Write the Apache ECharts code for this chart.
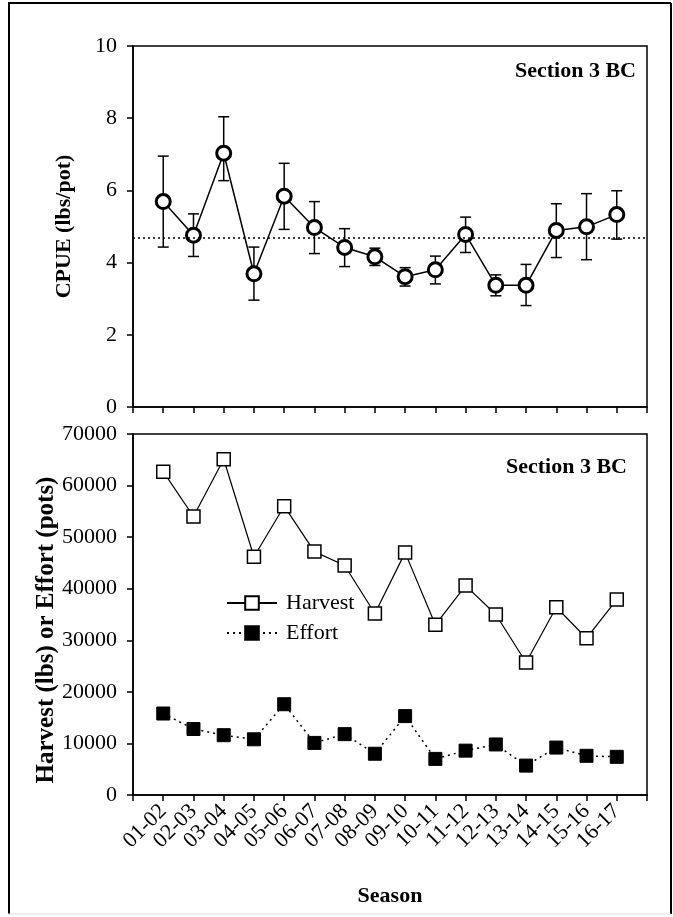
<!DOCTYPE html>
<html>
<head>
<meta charset="utf-8">
<script src="https://cdn.jsdelivr.net/npm/echarts@6/dist/echarts.min.js"></script>
<style>
  html, body { margin: 0; padding: 0; background: #fff; }
  #chart { width: 673px; height: 917px; }
</style>
</head>
<body>
<div id="chart"></div>
<script>
const seasons = ["01-02", "02-03", "03-04", "04-05", "05-06", "06-07", "07-08", "08-09",
  "09-10", "10-11", "11-12", "12-13", "13-14", "14-15", "15-16", "16-17"];
const cpue = [5.69, 4.76, 7.03, 3.69, 5.84, 4.97, 4.42, 4.16, 3.61, 3.80, 4.78, 3.37, 3.37, 4.89, 4.99, 5.33];
const cpueLow = [4.43, 4.17, 6.27, 2.96, 4.92, 4.25, 3.89, 3.92, 3.35, 3.41, 4.28, 3.08, 2.81, 4.14, 4.08, 4.65];
const cpueHigh = [6.95, 5.35, 8.04, 4.43, 6.75, 5.69, 4.94, 4.40, 3.86, 4.18, 5.26, 3.66, 3.95, 5.63, 5.91, 5.99];
const cpueMean = 4.68;
const harvest = [62700, 54000, 65100, 46200, 56000, 47200, 44500, 35200, 47000, 33000, 40600, 35000, 25700, 36400, 30400, 37900];
const effort = [15800, 12800, 11600, 10800, 17600, 10100, 11800, 8000, 15300, 7000, 8600, 9800, 5700, 9200, 7600, 7400];
const cpueTicks = { min: 0, max: 10, interval: 2 };
const countTicks = { min: 0, max: 70000, interval: 10000 };

const serif = '"Liberation Serif", "Times New Roman", serif';
const idx = (arr) => arr.map((v, i) => [i + 1, v]);

const chart = echarts.init(document.getElementById("chart"));

const xBase = {
  type: "value",
  min: 0,
  max: seasons.length + 1,
  interval: 1,
  splitLine: { show: false },
  axisLine: { lineStyle: { color: "#000", width: 1.5 } },
  axisTick: { inside: false, length: 6, lineStyle: { color: "#000", width: 1.5 } },
};
const yBase = {
  type: "value",
  splitLine: { show: false },
  axisLine: { show: true, lineStyle: { color: "#000", width: 1.5 } },
  axisTick: { show: true, inside: false, length: 6, lineStyle: { color: "#000", width: 1.5 } },
  axisLabel: { color: "#000", fontFamily: serif, fontSize: 22, margin: 16, formatter: (v) => String(v) },
  nameLocation: "middle",
  nameTextStyle: { color: "#000", fontFamily: serif, fontWeight: "bold", fontSize: 22 },
};

chart.setOption({
  animation: false,
  backgroundColor: "#fff",
  grid: [
    { left: 133, top: 46, width: 514, height: 361, show: true, borderColor: "#000", borderWidth: 1.5 },
    { left: 133, top: 434, width: 514, height: 361, show: true, borderColor: "#000", borderWidth: 1.5 },
  ],
  xAxis: [
    { ...xBase, gridIndex: 0, axisLabel: { show: false } },
    {
      ...xBase,
      gridIndex: 1,
      name: "Season",
      nameLocation: "middle",
      nameGap: 90,
      nameTextStyle: { color: "#000", fontFamily: serif, fontWeight: "bold", fontSize: 22 },
      axisLabel: {
        color: "#000", fontFamily: serif, fontSize: 22, rotate: 45, margin: 13,
        formatter: (v) => seasons[v - 1] || "",
      },
    },
  ],
  yAxis: [
    { ...yBase, gridIndex: 0, ...cpueTicks, name: "CPUE (lbs/pot)", nameGap: 58 },
    { ...yBase, gridIndex: 1, ...countTicks },
  ],
  legend: {
    orient: "vertical",
    left: 221,
    top: 587,
    itemWidth: 50,
    itemHeight: 17,
    itemGap: 8,
    textStyle: { color: "#000", fontFamily: serif, fontSize: 22, padding: [0, 0, 0, 4] },
    data: ["Harvest", "Effort"],
  },
  graphic: [
    {
      type: "text", right: 37, top: 60,
      style: { text: "Section 3 BC", fill: "#000", font: 'bold 22px "Liberation Serif", serif' },
    },
    {
      type: "text", right: 46, top: 456,
      style: { text: "Section 3 BC", fill: "#000", font: 'bold 22px "Liberation Serif", serif' },
    },
    {
      type: "text", x: 47, y: 630, rotation: Math.PI / 2,
      style: {
        text: "Harvest (lbs) or Effort (pots)", fill: "#000", align: "center", verticalAlign: "middle",
        font: 'bold 25px "Liberation Serif", serif',
      },
    },
    { type: "line", shape: { x1: 8, y1: 3, x2: 671, y2: 3 }, style: { stroke: "#000", lineWidth: 2 } },
    { type: "line", shape: { x1: 9, y1: 3, x2: 9, y2: 914 }, style: { stroke: "#000", lineWidth: 2 } },
    { type: "line", shape: { x1: 671, y1: 3, x2: 671, y2: 914 }, style: { stroke: "#000", lineWidth: 2 } },
    { type: "line", shape: { x1: 8, y1: 914, x2: 671, y2: 914 }, style: { stroke: "#ddd", lineWidth: 1 } },
  ],
  series: [
    {
      type: "custom",
      xAxisIndex: 0,
      yAxisIndex: 0,
      z: 1,
      data: cpue.map((_, i) => [i + 1, cpueLow[i], cpueHigh[i]]),
      renderItem: (params, api) => {
        const lo = api.coord([api.value(0), api.value(1)]);
        const hi = api.coord([api.value(0), api.value(2)]);
        const w = 5.5;
        const style = { stroke: "#000", lineWidth: 1.5 };
        return {
          type: "group",
          children: [
            { type: "line", shape: { x1: lo[0], y1: lo[1], x2: hi[0], y2: hi[1] }, style },
            { type: "line", shape: { x1: lo[0] - w, y1: lo[1], x2: lo[0] + w, y2: lo[1] }, style },
            { type: "line", shape: { x1: hi[0] - w, y1: hi[1], x2: hi[0] + w, y2: hi[1] }, style },
          ],
        };
      },
    },
    {
      name: "CPUE",
      type: "line",
      xAxisIndex: 0,
      yAxisIndex: 0,
      z: 3,
      data: idx(cpue),
      symbol: "circle",
      symbolSize: 14,
      itemStyle: { color: "#fff", borderColor: "#000", borderWidth: 3 },
      lineStyle: { color: "#000", width: 1.5 },
      markLine: {
        silent: true,
        symbol: "none",
        label: { show: false },
        lineStyle: { color: "#000", type: [2, 3], width: 1.5 },
        data: [{ yAxis: cpueMean }],
      },
    },
    {
      name: "Harvest",
      type: "line",
      xAxisIndex: 1,
      yAxisIndex: 1,
      data: idx(harvest),
      symbol: "rect",
      symbolSize: 13,
      itemStyle: { color: "#fff", borderColor: "#000", borderWidth: 1.5 },
      lineStyle: { color: "#000", width: 1.2 },
    },
    {
      name: "Effort",
      type: "line",
      xAxisIndex: 1,
      yAxisIndex: 1,
      data: idx(effort),
      symbol: "rect",
      symbolSize: 13,
      itemStyle: { color: "#000", borderColor: "#000", borderWidth: 1 },
      lineStyle: { color: "#000", width: 1.5, type: [2, 4] },
    },
  ],
});
</script>
</body>
</html>
